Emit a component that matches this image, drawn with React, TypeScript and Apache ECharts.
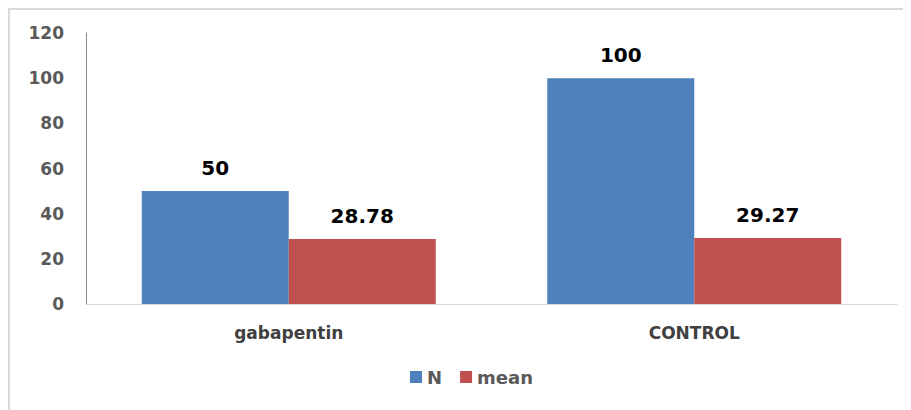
import React, { useEffect, useRef } from "react";
import * as echarts from "echarts";

const categories = ["gabapentin", "CONTROL"];
const nValues = [50, 100];
const meanValues = [28.78, 29.27];
const seriesNames = ["N", "mean"];

export default function App() {
  const ref = useRef<HTMLDivElement>(null);
  useEffect(() => {
    if (!ref.current) return;
    const chart = echarts.init(ref.current, null, { renderer: "svg" });
    const font = "DejaVu Sans";
    const labelStyle = {
      show: true,
      position: "top",
      distance: 13,
      fontFamily: font,
      fontWeight: "bold",
      fontSize: 20,
      color: "#000",
    };
    chart.setOption({
      animation: false,
      textStyle: { fontFamily: font },
      grid: { left: 76, right: 14, top: 23, bottom: 106 },
      legend: {
        data: seriesNames,
        left: 395,
        top: 353,
        itemWidth: 12,
        itemHeight: 12,
        itemGap: 18,
        icon: "rect",
        textStyle: { fontFamily: font, fontWeight: "bold", fontSize: 18, color: "#595959" },
      },
      xAxis: {
        type: "category",
        data: categories,
        axisLine: { lineStyle: { color: "#d9d9d9", width: 1 } },
        axisTick: { show: false },
        axisLabel: { fontFamily: font, fontWeight: "bold", fontSize: 17, color: "#404040", margin: 20 },
      },
      yAxis: {
        type: "value",
        min: 0,
        max: 120,
        interval: 20,
        splitLine: { show: false },
        axisLine: { show: true, lineStyle: { color: "#868686", width: 1 } },
        axisTick: { show: false },
        axisLabel: { fontFamily: font, fontWeight: "bold", fontSize: 17, color: "#595959", margin: 22 },
      },
      series: [
        {
          name: seriesNames[0],
          type: "bar",
          data: nValues,
          barGap: "0%",
          barCategoryGap: "27.5%",
          itemStyle: { color: "#4F81BD" },
          label: labelStyle,
        },
        {
          name: seriesNames[1],
          type: "bar",
          data: meanValues,
          barGap: "0%",
          barCategoryGap: "27.5%",
          itemStyle: { color: "#C0504D" },
          label: labelStyle,
        },
      ],
    });
    return () => chart.dispose();
  }, []);
  return (
    <div
      style={{
        width: 903,
        height: 402,
        boxSizing: "border-box",
        borderTop: "2px solid #d9d9d9",
        borderLeft: "2px solid #d9d9d9",
        overflow: "hidden",
      }}
    >
      <div ref={ref} style={{ width: 901, height: 400 }} />
    </div>
  );
}
